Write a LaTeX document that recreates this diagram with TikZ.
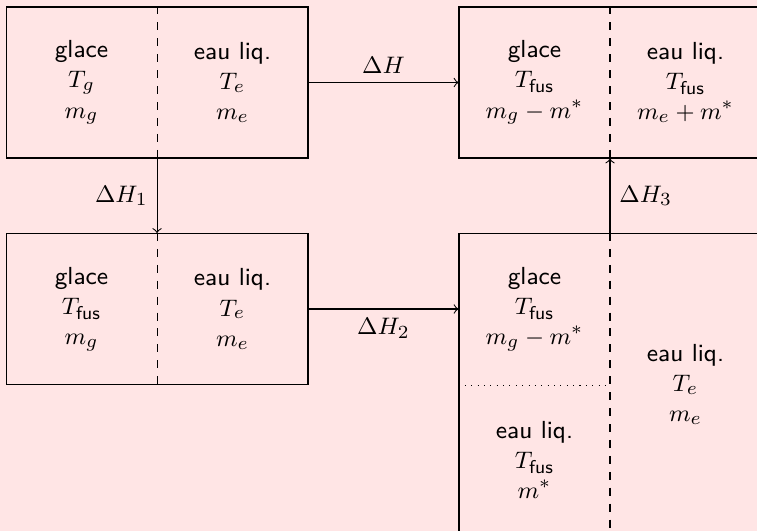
\documentclass[tikz,border=0pt]{standalone}
\usetikzlibrary{calc}
\begin{document}
\begin{tikzpicture}[
  every node/.style={font=\fontsize{9.3}{11.4}\selectfont},
  box/.style={draw, minimum width=4cm, minimum height=2cm, inner sep=0pt},
  tallbox/.style={draw, minimum width=4cm, minimum height=4cm, inner sep=0pt},
  cell/.style={minimum width=2cm, minimum height=2cm, inner sep=0pt, align=center},
  tallcell/.style={minimum width=2cm, minimum height=4cm, inner sep=0pt, align=center},
  flow/.style={->},
  sep/.style={dashed},
]
\path[use as bounding box, fill=red!10] (-0.08,-4.94) rectangle (9.947,2.093);
\clip (-0.08,-4.94) rectangle (9.947,2.093);

% boxes
\node[box] (A) at (2,1) {};
\node[box] (B) at (8,1) {};
\node[box] (C) at (2,-2) {};
\node[tallbox] (D) at (8,-3) {};

% cells
\node[cell] (A1) at (1,1) {\textsf{glace}\\$T_g$\\$m_g$};
\node[cell] (A2) at (3,1) {\textsf{eau liq.}\\$T_e$\\$m_e$};
\node[cell] (B1) at (7,1) {\textsf{glace}\\$T_{\mathsf{fus}}$\\$m_g-m^*$};
\node[cell] (B2) at (9,1) {\textsf{eau liq.}\\$T_{\mathsf{fus}}$\\$m_e+m^*$};
\node[cell] (C1) at (1,-2) {\textsf{glace}\\$T_{\mathsf{fus}}$\\$m_g$};
\node[cell] (C2) at (3,-2) {\textsf{eau liq.}\\$T_e$\\$m_e$};
\node[cell] (D1) at (7,-2) {\textsf{glace}\\$T_{\mathsf{fus}}$\\$m_g-m^*$};
\node[cell] (D2) at (7,-4) {\textsf{eau liq.}\\$T_{\mathsf{fus}}$\\$m^*$};
\node[tallcell] (D3) at (9,-3) {\textsf{eau liq.}\\$T_e$\\$m_e$};

% separators
\draw[sep] (A.north) -- (A.south);
\draw[sep] (B.north) -- (B.south);
\draw[sep] (C.north) -- (C.south);
\draw[sep] (D.north) -- (D.south);
\draw[dotted] (D1.south west) -- (D1.south east);

% transformations
\draw[flow] (A.east) -- node[above] {$\Delta H$} (B.west);
\draw[flow] (A.south) -- node[left] {$\Delta H_1$} (C.north);
\draw[flow] (C.east) -- node[below] {$\Delta H_2$} (D1.west);
\draw[flow] (D.north) -- node[right] {$\Delta H_3$} (B.south);
\end{tikzpicture}
\end{document}
